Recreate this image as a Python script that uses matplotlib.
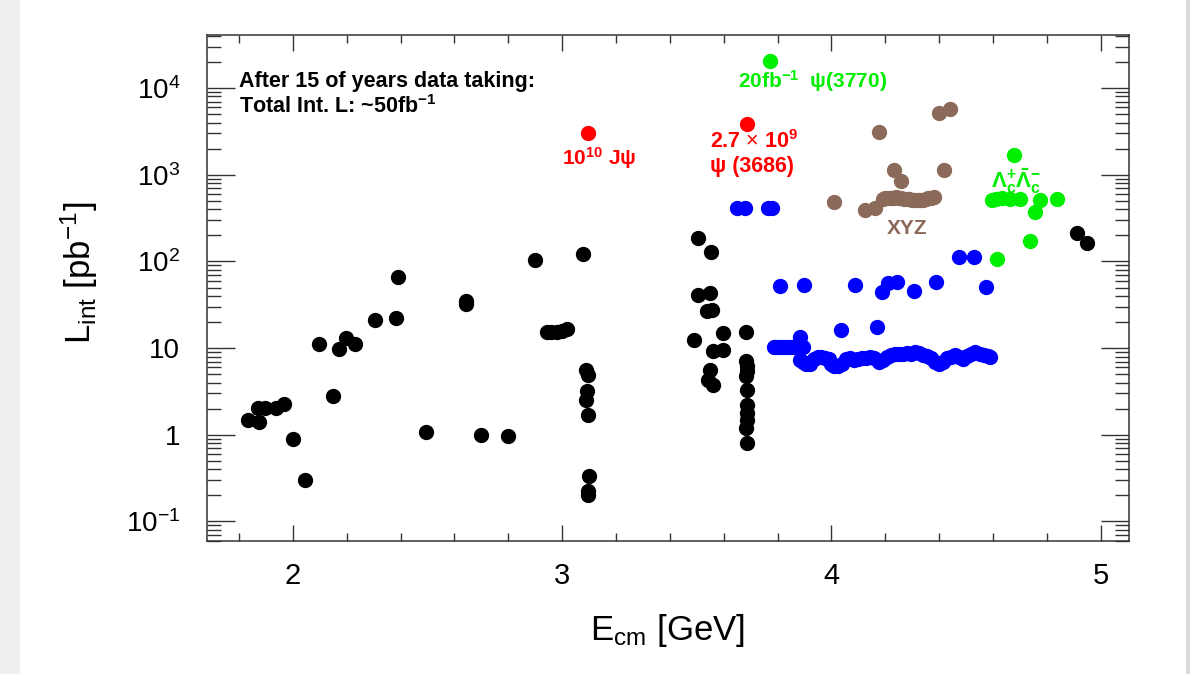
#!/usr/bin/env python3
"""Integrated luminosity collected vs. centre-of-mass energy (log scale)."""
import matplotlib
matplotlib.use("Agg")
import matplotlib.pyplot as plt
from matplotlib.patches import Rectangle
from matplotlib.ticker import MultipleLocator, FixedLocator, FixedFormatter, LogLocator, NullFormatter

plt.rcParams["font.family"] = ["Liberation Sans", "DejaVu Sans"]
plt.rcParams["mathtext.fontset"] = "custom"
plt.rcParams["mathtext.rm"] = "Liberation Sans"
plt.rcParams["mathtext.it"] = "Liberation Sans:italic"
plt.rcParams["mathtext.bf"] = "Liberation Sans:bold"

# ---- data (E_cm in GeV, L_int in pb^-1) ----
black_e = [1.835, 1.876, 1.872, 1.897, 1.938, 1.968, 2.000, 2.046, 2.098, 2.149,
           2.171, 2.197, 2.231, 2.306, 2.384, 2.392, 2.495, 2.644, 2.644, 2.697,
           2.800, 2.900, 2.944, 2.960, 2.980, 3.000, 3.018, 3.077,
           3.088, 3.097, 3.092, 3.087, 3.097, 3.100, 3.096, 3.097,
           3.488, 3.506, 3.554, 3.506, 3.550, 3.537, 3.558, 3.599, 3.682, 3.560,
           3.599, 3.550, 3.543, 3.562,
           3.684, 3.686, 3.688, 3.684, 3.686, 3.686, 3.688, 3.686, 3.684, 3.686,
           4.911, 4.948]
black_l = [1.49, 1.39, 2.04, 2.04, 2.04, 2.27, 0.90, 0.30, 11.1, 2.77,
           9.85, 13.1, 11.2, 20.9, 22.2, 66.0, 1.07, 34.6, 32.3, 1.00,
           0.98, 103, 15.5, 15.3, 15.3, 15.6, 16.8, 123,
           5.63, 4.93, 3.17, 2.54, 1.71, 0.331, 0.222, 0.204,
           12.5, 186, 130, 41.3, 43.2, 26.5, 27.7, 14.9, 15.3, 9.16,
           9.6, 5.63, 4.32, 3.78,
           7.03, 6.15, 5.38, 4.72, 3.31, 2.22, 1.78, 1.49, 1.20, 0.80,
           213, 163]

blue_e = [3.650, 3.680, 3.765, 3.780, 3.810, 3.899, 4.088, 4.189, 4.212, 4.243,
          4.308, 4.389, 4.472, 4.531, 4.574, 4.036, 4.171, 3.884,
          3.785, 3.797, 3.809, 3.821, 3.833, 3.845, 3.857, 3.869, 3.881, 3.893,
          3.884, 3.895, 3.905, 3.920, 3.935, 3.950, 3.960, 3.975, 3.990, 4.000,
          4.010, 4.025, 4.040, 4.055, 4.070, 4.085, 4.100, 4.115, 4.130, 4.145,
          4.160, 4.175, 4.190, 4.205, 4.220, 4.235, 4.250, 4.265, 4.280, 4.295,
          4.310, 4.325, 4.340, 4.355, 4.370, 4.385, 4.400, 4.415, 4.430, 4.445,
          4.460, 4.475, 4.490, 4.505, 4.520, 4.535, 4.550, 4.565, 4.580, 4.590]
blue_l = [410, 410, 415, 415, 51.5, 52.8, 52.8, 44.4, 56.3, 57.3,
          45.9, 57.8, 112, 112, 50.1, 16.0, 17.5, 13.4,
          10.2, 10.3, 10.4, 10.3, 10.2, 10.4, 10.3, 10.5, 10.3, 10.4,
          7.3, 7.0, 6.6, 6.5, 7.5, 8.0, 7.9, 7.6, 7.5, 6.6,
          6.3, 6.2, 6.5, 7.4, 7.6, 7.3, 7.5, 7.7, 7.6, 7.8,
          7.7, 6.9, 7.2, 7.9, 8.3, 8.5, 8.6, 8.5, 8.8, 8.6,
          8.9, 8.7, 8.4, 8.2, 7.7, 7.0, 6.6, 7.0, 7.6, 8.0,
          8.3, 7.8, 7.5, 8.2, 8.5, 8.9, 8.5, 8.3, 8.2, 8.0]

brown_e = [4.010, 4.125, 4.162, 4.178, 4.233, 4.258, 4.401, 4.441, 4.419,
           4.190, 4.200, 4.210, 4.220, 4.230, 4.240, 4.250, 4.260, 4.270, 4.280,
           4.290, 4.300, 4.310, 4.320, 4.330, 4.340, 4.350, 4.360, 4.370, 4.380]
brown_l = [484, 395, 413, 3110, 1122, 837, 5150, 5770, 1122,
           530, 540, 545, 540, 545, 550, 540, 535, 530, 525,
           520, 515, 515, 510, 510, 515, 525, 535, 545, 550]

green_e = [3.773, 4.596, 4.613, 4.633, 4.664, 4.701, 4.775, 4.837, 4.756, 4.738, 4.614, 4.678]
green_l = [20270, 515, 520, 545, 525, 525, 515, 525, 367, 170, 107, 1670]

red_e = [3.097, 3.686]
red_l = [3030, 3875]

y_ticks = [0.1, 1, 10, 100, 1000, 10000]
y_tick_labels = [r"$10^{-1}$", "1", "10", r"$10^{2}$", r"$10^{3}$", r"$10^{4}$"]

BROWN = "#8b6a5a"
GREEN = "#00ee00"

fig = plt.figure(figsize=(11.9, 6.74), dpi=100)
fig.add_artist(Rectangle((0, 0), 20 / 1190, 1, transform=fig.transFigure,
                         color="#efefef", lw=0, zorder=-5))
fig.add_artist(Rectangle((1186 / 1190, 0), 4 / 1190, 1, transform=fig.transFigure,
                         color="#dadada", lw=0, zorder=-5))
ax = fig.add_axes([0.1737, 0.1978, 0.7750, 0.7503])

ms = 10
for e, l, c in [(black_e, black_l, "black"), (blue_e, blue_l, "#0000ff"),
                (brown_e, brown_l, BROWN), (green_e, green_l, GREEN),
                (red_e, red_l, "#ff0000")]:
    ax.plot(e, l, ls="none", marker="o", ms=ms, color=c, mec=c)

ax.set_yscale("log")
ax.set_xlim(1.68, 5.105)
ax.set_ylim(0.06, 4.1e4)

ax.xaxis.set_major_locator(MultipleLocator(1))
ax.xaxis.set_minor_locator(MultipleLocator(0.2))
ax.yaxis.set_major_locator(FixedLocator(y_ticks))
ax.yaxis.set_major_formatter(FixedFormatter(y_tick_labels))
ax.yaxis.set_minor_locator(LogLocator(base=10, subs=range(2, 10), numticks=20))
ax.yaxis.set_minor_formatter(NullFormatter())

ax.tick_params(axis="both", which="both", direction="in", top=True, right=True,
               color="#333333", width=1.0)
ax.tick_params(axis="x", which="major", length=11.5, labelsize=21, pad=15)
ax.tick_params(axis="x", which="minor", length=5.8)
ax.tick_params(axis="y", which="major", length=20, labelsize=20, pad=19)
ax.tick_params(axis="y", which="minor", length=10)
for sp in ax.spines.values():
    sp.set_color("#333333")
    sp.set_linewidth(1.1)

ax.set_xlabel(r"E$_{\mathrm{cm}}$ [GeV]", fontsize=25)
ax.xaxis.label.set_va("center")
ax.xaxis.set_label_coords(0.5, -0.177)
ax.set_ylabel(r"L$_{\mathrm{int}}$ [pb$^{-1}$]", fontsize=25)
ax.yaxis.label.set_va("center")
ax.yaxis.set_label_coords(-0.138, 0.53)

# annotations
tr = ax.transAxes
ax.text(0.035, 0.8966, "After 15 of years data taking:", transform=tr,
        fontsize=15.5, fontweight="bold", va="baseline")
ax.text(0.035, 0.8463, r"Total Int. L: ~50fb$^{\mathbf{-1}}$", transform=tr,
        fontsize=15.5, fontweight="bold", va="baseline")
ax.text(0.4255, 0.7429, r"10$^{\mathbf{10}}$ J" + "\u03c8", transform=tr, color="#ff0000",
        fontsize=15, fontweight="bold", ha="center", va="baseline")
ax.text(0.5457, 0.776, r"2.7 $\times$ 10$^{\mathbf{9}}$", transform=tr, color="#ff0000",
        fontsize=15.5, fontweight="bold", va="baseline")
ax.text(0.5457, 0.7296, "\u03c8 (3686)", transform=tr, color="#ff0000",
        fontsize=15.5, fontweight="bold", va="baseline")
ax.text(0.5761, 0.8963, r"20fb$^{\mathbf{-1}}$  " + "\u03c8(3770)", transform=tr,
        color=GREEN, fontsize=15, fontweight="bold", va="baseline")
ax.text(0.759, 0.6061, "XYZ", transform=tr, color=BROWN,
        fontsize=15, fontweight="bold", ha="center", va="baseline")
ax.text(0.8776, 0.698, r"$\mathbf{\Lambda_{c}^{+}\bar{\Lambda}_{c}^{-}}$", transform=tr,
        color=GREEN, fontsize=16, ha="center", va="baseline")

fig.savefig("out.png", dpi=100, facecolor="white")
